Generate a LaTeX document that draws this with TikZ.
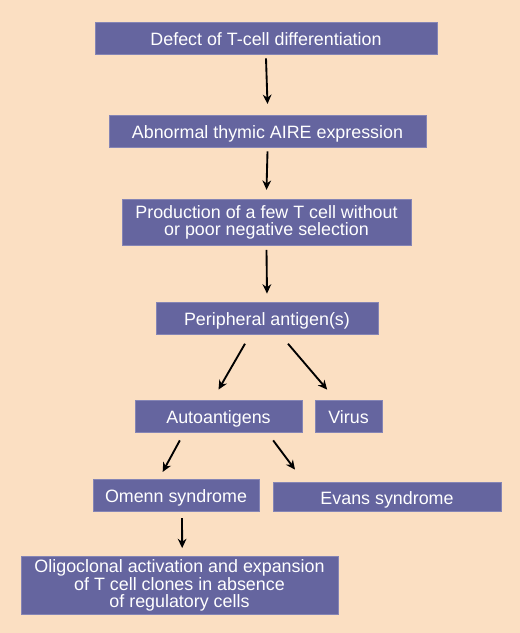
\documentclass[tikz,border=0pt]{standalone}
\usepackage{fontspec}
\setmainfont{Liberation Sans}
\usetikzlibrary{arrows.meta}
\definecolor{peach}{HTML}{FBDFC2}
\definecolor{slate}{HTML}{65659F}
\definecolor{slateedge}{HTML}{8585B5}
\tikzset{
  stepbox/.style={fill=slate,draw=slateedge,line width=0.6pt,text=white,
    inner sep=0pt,align=center,font=\fontsize{13.4}{13.2}\selectfont},
  oneline/.style={stepbox,text height=11.6pt,text depth=0pt},
  flow/.style={-{Stealth[length=7pt,width=6.5pt]},line width=1.4pt,black}
}
\begin{document}
\begin{tikzpicture}[x=0.75pt,y=-0.75pt]
\fill[peach] (0,0) rectangle (520,633);
\useasboundingbox (0,0) rectangle (520,633);

\node[oneline,minimum width=256.5pt,minimum height=24pt] (defect) at (266,38) {Defect of T-cell differentiation};
\node[oneline,minimum width=237.75pt,minimum height=24pt] (aire) at (267.5,131) {Abnormal thymic AIRE expression};
\node[stepbox,minimum width=216.75pt,minimum height=34.5pt] (prod) at (266.5,222.5) {Production of a few T cell without\\or poor negative selection};
\node[oneline,minimum width=166.5pt,minimum height=24pt] (periph) at (267,318) {Peripheral antigen(s)};
\node[oneline,minimum width=125.25pt,minimum height=24pt] (auto) at (218.5,416) {Autoantigens};
\node[oneline,minimum width=50.25pt,minimum height=24pt] (virus) at (348.5,416) {Virus};
\node[oneline,minimum width=124.5pt,minimum height=24pt] (omenn) at (176,495) {Omenn syndrome};
\node[oneline,minimum width=171pt,minimum height=21.75pt] (evans) at (387,496.5) {Evans syndrome};
\node[stepbox,minimum width=237.75pt,minimum height=43.5pt] (oligo) at (179.5,585.5) {Oligoclonal activation and expansion\\of T cell clones in absence\\of regulatory cells};

\draw[flow] ([yshift=-3pt]defect.south) -- ([yshift=8pt]aire.north);
\draw[flow] ([yshift=-3pt]aire.south) -- ([yshift=7pt]prod.north);
\draw[flow] ([yshift=-3pt]prod.south) -- ([yshift=6pt]periph.north);
\draw[flow] ([xshift=-16.5pt,yshift=-7pt]periph.south) -- ([xshift=0pt,yshift=7.5pt]auto.north);
\draw[flow] ([xshift=15.75pt,yshift=-7pt]periph.south) -- ([xshift=-16pt,yshift=7.5pt]virus.north);
\draw[flow] ([xshift=-29pt,yshift=-6pt]auto.south) -- ([xshift=-10pt,yshift=5pt]omenn.north);
\draw[flow] ([xshift=41pt,yshift=-6pt]auto.south) -- ([xshift=-69pt,yshift=9pt]evans.north);
\draw[flow] ([xshift=4.5pt,yshift=-5pt]omenn.south) -- ([xshift=2pt,yshift=6pt]oligo.north);
\end{tikzpicture}
\end{document}
